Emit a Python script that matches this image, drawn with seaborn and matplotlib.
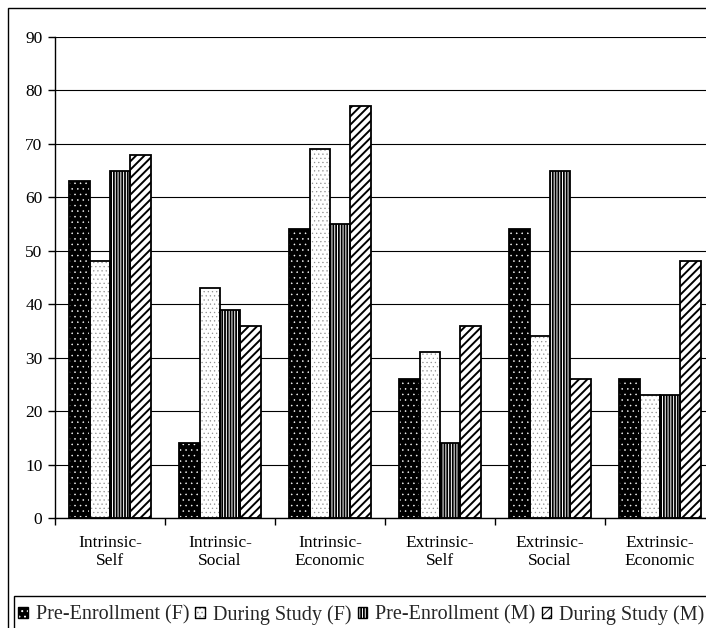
import numpy as np
import pandas as pd
import matplotlib
matplotlib.use('Agg')
import matplotlib.pyplot as plt
import seaborn as sns
from matplotlib.patches import Patch, Rectangle

categories = ['Intrinsic-\nSelf', 'Intrinsic-\nSocial', 'Intrinsic-\nEconomic',
              'Extrinsic-\nSelf', 'Extrinsic-\nSocial', 'Extrinsic-\nEconomic']
series = ['Pre-Enrollment (F)', 'During Study (F)', 'Pre-Enrollment (M)', 'During Study (M)']
pre_f = [63, 14, 54, 26, 54, 26]
during_f = [48, 43, 69, 31, 34, 23]
pre_m = [65, 39, 55, 14, 65, 23]
during_m = [68, 36, 77, 36, 26, 48]
yticks = list(range(0, 100, 10))

# fill colour, hatch colour, hatch pattern, hatch line width for each series
styles = [('black', 'white', '...', 0.35),
          ('white', '#909090', '....', 0.4),
          ('black', 'white', '||||||', 0.7),
          ('white', 'black', '////', 1.4)]

df = pd.DataFrame({
    'category': categories * 4,
    'series': np.repeat(series, len(categories)),
    'value': pre_f + during_f + pre_m + during_m,
})

sns.set_style('white')
plt.rcParams['font.family'] = ['Liberation Serif', 'DejaVu Serif']
plt.rcParams['hatch.linewidth'] = 0.7


def style_patch(p, fill, hcol, pat, hlw):
    p.set_facecolor(fill)
    p.set_edgecolor(hcol)
    p.set_hatch(pat)
    p.set_linewidth(0)
    if hasattr(p, 'set_hatch_linewidth'):
        p.set_hatch_linewidth(hlw)


fig = plt.figure(figsize=(7.06, 6.28), dpi=100)
ax = fig.add_axes([55 / 706, 110 / 628, 660 / 706, 481 / 628])

sns.barplot(data=df, x='category', y='value', hue='series', order=categories,
            hue_order=series, palette=['black'] * 4, width=0.745, gap=0,
            errorbar=None, legend=False, ax=ax)

# hatch colour follows edge colour, so draw the black outline as a second patch
for container, st in zip(ax.containers, styles):
    for bar in container:
        style_patch(bar, *st)
        ax.add_patch(Rectangle(bar.get_xy(), bar.get_width(), bar.get_height(),
                               fill=False, edgecolor='black', linewidth=1.3,
                               zorder=bar.get_zorder() + 0.1))

ax.set_xlim(-0.5, len(categories) - 0.5)
ax.set_ylim(0, 90)
ax.set_yticks(yticks)
ax.set_xticks(range(len(categories)))
ax.set_xticklabels(categories)
ax.set_xticks(np.arange(-0.5, len(categories)), minor=True)
ax.set_xlabel('')
ax.set_ylabel('')

ax.yaxis.grid(True, color='black', linewidth=0.8)
ax.set_axisbelow(True)
for side in ['top', 'right']:
    ax.spines[side].set_visible(False)
for side in ['left', 'bottom']:
    ax.spines[side].set_color('black')
    ax.spines[side].set_linewidth(1.0)

ax.tick_params(axis='y', left=True, direction='out', length=5, width=1,
               color='black', labelsize=12.5, pad=4, labelcolor='black')
ax.tick_params(axis='x', which='major', bottom=True, length=0, labelsize=12.5,
               pad=12, labelcolor='black')
ax.tick_params(axis='x', which='minor', bottom=True, direction='out', length=5,
               width=1, color='black')

# legend: hatched square with a black border on top
handles = []
for st in styles:
    hp = Patch()
    style_patch(hp, *st)
    handles.append((hp, Patch(facecolor='none', edgecolor='black', linewidth=1)))
fig.legend(handles, series, loc='center left', bbox_to_anchor=(18 / 706, 1 - 615 / 628),
           frameon=False, ncol=4, fontsize=14.5, handlelength=0.48, handleheight=0.48,
           handletextpad=0.4, columnspacing=0.3, borderpad=0, borderaxespad=0)

# outer chart border and legend box (both run off the right/bottom edge)
fig.patches.append(Rectangle((8 / 706, -0.05), 1.1, 1 - 8 / 628 + 0.05,
                             transform=fig.transFigure, fill=False,
                             edgecolor='black', linewidth=1))
fig.patches.append(Rectangle((14 / 706, -0.05), 1.1, 1 - 596 / 628 + 0.05,
                             transform=fig.transFigure, fill=False,
                             edgecolor='black', linewidth=1))

fig.savefig('out.png', dpi=100)
